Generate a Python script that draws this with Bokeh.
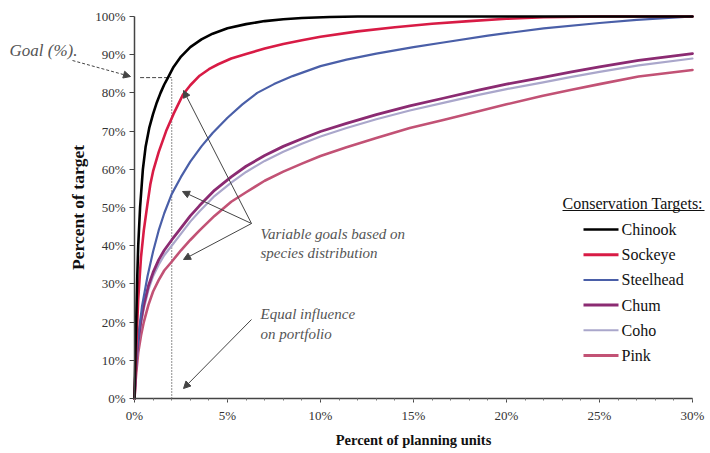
from bokeh.plotting import figure
from bokeh.models import (Range1d, Label, Arrow, NormalHead,
                          FixedTicker, CustomJSTickFormatter)
from bokeh.embed import file_html
from bokeh.resources import INLINE

# ---------------- data ----------------
chinook_x = [0, 0.05, 0.1, 0.15, 0.2, 0.3, 0.45, 0.6, 0.8, 1.0, 1.2, 1.4, 1.6, 1.8, 2.1, 2.5, 3.0,
             3.6, 4.2, 5.0, 6, 7, 8, 9, 10.5, 12, 30]
chinook_y = [0, 12, 22, 32, 40, 50, 60, 66, 71, 74.5, 77.5, 80, 82.2, 84, 86.8, 89.5, 92,
             94, 95.5, 96.9, 98, 98.8, 99.3, 99.6, 99.85, 100, 100]

sockeye_x = [0, 0.1, 0.2, 0.35, 0.5, 0.7, 0.85, 1.0, 1.3, 1.7, 2.1, 2.6, 3.0, 3.5, 4.0, 4.5, 5.2,
             6, 7, 8, 9, 10, 12, 14, 16, 18, 20, 22, 25, 30]
sockeye_y = [0, 14, 26, 37, 44, 51, 56, 59.5, 64.5, 70, 74.5, 79.5, 82, 84.5, 86.2, 87.5, 89,
             90.2, 91.6, 92.8, 93.8, 94.7, 96.1, 97.2, 98.1, 98.8, 99.4, 99.8, 100, 100]

steelhead_x = [0, 0.1, 0.2, 0.4, 0.7, 1.0, 1.3, 1.6, 2.0, 2.5, 3.0, 3.6, 4.2, 5.0, 5.8, 6.6, 7.5,
               8.5, 10, 11.4, 13, 15, 16.6, 19, 22, 25, 27, 30]
steelhead_y = [0, 10, 16, 24, 32, 38.5, 44, 48.5, 53.5, 58, 62, 66, 69.5, 73.5, 77, 80, 82.3,
               84.4, 87, 88.7, 90.3, 92, 93.2, 95, 96.9, 98.3, 99.1, 100]

chum_x = [0, 0.05, 0.1, 0.2, 0.35, 0.5, 0.75, 1.0, 1.3, 1.6, 2.0, 2.4, 3.0, 3.5, 4.3, 5.2, 6, 7,
          8, 9, 10, 11.4, 13, 14.8, 16.6, 18.5, 20, 21.9, 23.5, 25, 27.1, 30]
chum_y = [0, 6, 10, 15, 20.5, 24.5, 29.5, 33, 36.3, 38.8, 41.5, 44, 47.8, 50.5, 54.5, 58, 60.8,
          63.6, 66, 68, 69.9, 72, 74.3, 76.6, 78.6, 80.7, 82.3, 84, 85.5, 86.8, 88.5, 90.3]

coho_x = [0, 0.05, 0.1, 0.2, 0.35, 0.5, 0.75, 1.0, 1.3, 1.6, 2.0, 2.4, 3.0, 3.5, 4.3, 5.2, 6, 7,
          8, 9, 10, 11.4, 13, 14.8, 16.6, 18.5, 20, 21.9, 23.5, 25, 27.1, 30]
coho_y = [0, 5.5, 9, 14, 19.5, 23.5, 28.5, 32, 35, 37.5, 40, 42.5, 46.3, 49, 53, 56.5, 59.3,
          62.2, 64.6, 66.7, 68.6, 70.8, 73.1, 75.4, 77.4, 79.5, 81, 82.7, 84.2, 85.5, 87.2, 89]

pink_x = [0, 0.05, 0.1, 0.2, 0.35, 0.5, 0.75, 1.0, 1.3, 1.6, 2.0, 2.5, 3.0, 3.5, 4.3, 5.2, 6, 7,
          8, 9, 10, 11.4, 13, 14.8, 16.6, 18.5, 20, 21.9, 23.5, 25, 27.1, 30]
pink_y = [0, 4, 7, 12, 16.5, 20, 24.5, 28, 31, 33.5, 35.8, 38.8, 41.5, 44, 47.8, 51.5, 54, 57,
          59.4, 61.5, 63.5, 65.8, 68.2, 70.8, 72.9, 75.2, 77, 79.2, 80.8, 82.3, 84.3, 86]

series_names = ["Chinook", "Sockeye", "Steelhead", "Chum", "Coho", "Pink"]
x_ticks = [0, 5, 10, 15, 20, 25, 30]
x_minor_ticks = list(range(0, 31))
y_ticks = [0, 10, 20, 30, 40, 50, 60, 70, 80, 90, 100]
goal_x = 2.0     # percent of planning units
goal_y = 84.0    # goal (%)

# ---------------- styling / layout ----------------
colors = ["#000000", "#d81b45", "#4a5fa8", "#8b2b72", "#aaa7cb", "#c25275"]
widths = [2.6, 2.6, 2.2, 2.8, 2.2, 2.6]
legend_widths = [2.4, 3.0, 2.0, 3.0, 2.0, 3.0]
SERIF = "Liberation Serif"
ANN = "#555555"

W, H = 706, 450
X0_PX, X30_PX = 134, 692          # pixel positions of 0% and 30%
Y0_PX, Y100_PX = 398, 16          # pixel positions of 0% and 100% (from top)
sx = (X30_PX - X0_PX) / 30.0
sy = (Y0_PX - Y100_PX) / 100.0


def px2x(px):
    return (px - X0_PX) / sx


def px2y(py):
    return (Y0_PX - py) / sy


x_range = Range1d(px2x(0), px2x(W))
y_range = Range1d(px2y(H), px2y(0))

p = figure(width=W, height=H, output_backend="svg", toolbar_location=None,
           x_range=x_range, y_range=y_range)
p.min_border_left = 0
p.min_border_right = 0
p.min_border_top = 0
p.min_border_bottom = 0
p.outline_line_color = None
p.grid.visible = False
p.background_fill_color = "white"
p.border_fill_color = "white"

for ax in (p.xaxis[0], p.yaxis[0]):
    ax.fixed_location = 0
    ax.axis_line_color = "#444444"
    ax.axis_line_width = 1.5
    ax.major_tick_line_color = "#444444"
    ax.minor_tick_line_color = "#777777"
    ax.major_label_text_font = SERIF
    ax.major_label_text_font_size = "13px"
    ax.major_label_text_color = "#333333"
    ax.axis_label_text_font = SERIF
    ax.axis_label_text_font_style = "bold"
    ax.axis_label_text_color = "#111111"
    ax.major_tick_in = 0
    ax.minor_tick_in = 0
    ax.formatter = CustomJSTickFormatter(code="return tick + '%';")

p.xaxis.ticker = FixedTicker(ticks=x_ticks, minor_ticks=x_minor_ticks)
p.xaxis.bounds = (0, 30)
p.xaxis.major_tick_out = 4
p.xaxis.minor_tick_out = 2
p.xaxis.major_label_standoff = 5
p.xaxis.axis_label = "Percent of planning units"
p.xaxis.axis_label_text_font_size = "14.5px"
p.xaxis.axis_label_standoff = 6

p.yaxis.ticker = FixedTicker(ticks=y_ticks)
p.yaxis.bounds = (0, 100)
p.yaxis.major_tick_out = 5
p.yaxis.minor_tick_out = 0
p.yaxis.major_label_standoff = 4
p.yaxis.axis_label = "Percent of target"
p.yaxis.axis_label_text_font_size = "17.5px"
p.yaxis.axis_label_standoff = 4

# goal guide lines
p.segment(x0=[0.3], y0=[goal_y], x1=[goal_x], y1=[goal_y],
          line_color="#444444", line_width=1, line_dash="4 2")
p.segment(x0=[goal_x], y0=[0], x1=[goal_x], y1=[goal_y],
          line_color="#444444", line_width=1.2, line_dash="1 2")

# curves
xs = [chinook_x, sockeye_x, steelhead_x, chum_x, coho_x, pink_x]
ys = [chinook_y, sockeye_y, steelhead_y, chum_y, coho_y, pink_y]
for i in [5, 4, 3, 2, 1, 0]:
    p.line(xs[i], ys[i], line_color=colors[i], line_width=widths[i],
           line_join="round", line_cap="round")

# legend (drawn by hand so it keeps the serif face)
LEG_X0, LEG_X1, LEG_TXT = 583, 618, 621
LEG_Y0, LEG_DY = 229, 25.2
for i, name in enumerate(series_names):
    yy = px2y(LEG_Y0 + i * LEG_DY)
    p.segment(x0=[px2x(LEG_X0)], y0=[yy], x1=[px2x(LEG_X1)], y1=[yy],
              line_color=colors[i], line_width=legend_widths[i])
    p.add_layout(Label(x=px2x(LEG_TXT), y=yy, text=name, text_font=SERIF,
                       text_font_size="16px", text_color="#111111",
                       text_baseline="middle", text_align="left"))

# legend title with underline
p.add_layout(Label(x=px2x(562), y=px2y(203), text="Conservation Targets:", text_font=SERIF,
                   text_font_size="16px", text_color="#111111",
                   text_baseline="middle", text_align="left"))
p.segment(x0=[px2x(562)], y0=[px2y(210)], x1=[px2x(704)], y1=[px2y(210)],
          line_color="#111111", line_width=1)

# annotations
def ann_label(px, py, t, size="15px"):
    p.add_layout(Label(x=px2x(px), y=px2y(py), text=t, text_font=SERIF,
                       text_font_style="italic", text_font_size=size, text_color=ANN,
                       text_baseline="middle", text_align="left"))

ann_label(260, 233, "Variable goals based on")
ann_label(260, 252, "species distribution")
ann_label(260, 313, "Equal influence")
ann_label(260, 333, "on portfolio")
ann_label(9, 50, "Goal (%).", size="17px")


def arrow(x0, y0, x1, y1, dash="solid"):
    p.add_layout(Arrow(x_start=px2x(x0), y_start=px2y(y0), x_end=px2x(x1), y_end=px2y(y1),
                       line_color="#444444", line_width=1, line_dash=dash,
                       end=NormalHead(size=7, line_color="#444444", fill_color="#444444",
                                      line_width=1)))


arrow(251, 223, 183, 90)
arrow(251, 223, 182, 191)
arrow(251, 223, 183, 259)
arrow(251, 319, 183, 388)
arrow(72, 60, 130, 76, dash="3 2")

open("out.html", "w").write(file_html(p, INLINE))
